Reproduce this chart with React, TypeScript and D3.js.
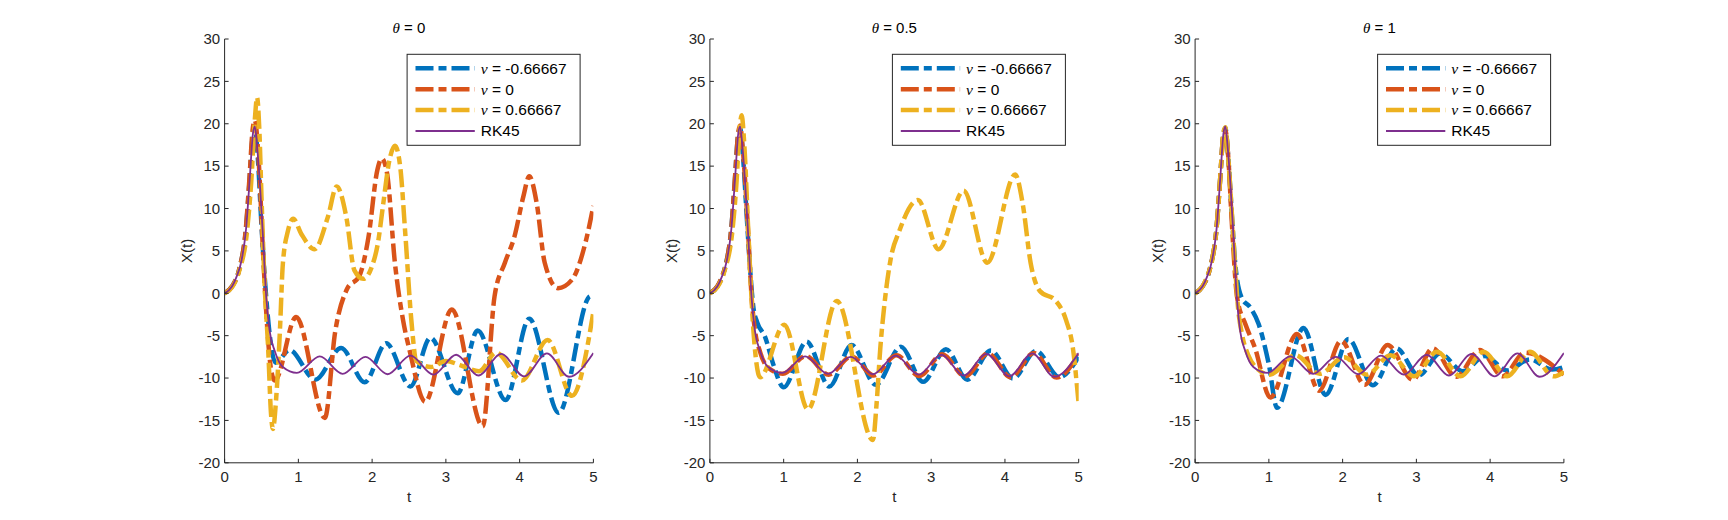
import React from 'react';
import * as d3 from 'd3';

const W = 1728;
const H = 520;
const panelLeft = [224.6, 709.9, 1195.1];
const panelW = 368.8;
const plotTop = 39;
const plotBottom = 462.8;

const thetaLabels = ['0', '0.5', '1'];
const nuLabels = ['-0.66667', '0', '0.66667'];
const nuColors = ['#0072BD', '#D95319', '#EDB120'];
const rkColor = '#7E2F8E';
const xTicks = [0, 1, 2, 3, 4, 5];
const yTicks = [-20, -15, -10, -5, 0, 5, 10, 15, 20, 25, 30];

// RK45 reference (same in every panel)
const tRK = [0, 0.1, 0.16, 0.23, 0.29, 0.34, 0.385, 0.41, 0.44, 0.475, 0.52, 0.565, 0.61, 0.68, 0.79, 0.98, 1.29, 1.6, 1.91, 2.21, 2.52, 2.83, 3.14, 3.44, 3.75, 4.06, 4.37, 4.67, 5.0];
const xRK = [0, 0.8, 1.9, 3.9, 7.5, 13.4, 18.9, 19.7, 17.4, 13.4, 6.7, -0.5, -4.4, -6.8, -8.7, -9.4, -7.45, -9.5, -7.5, -9.55, -7.35, -9.6, -7.25, -9.7, -7.15, -9.8, -7.1, -9.85, -7.05];

// theta = 0
const t1Blue = [0, 0.1, 0.2, 0.29, 0.34, 0.38, 0.41, 0.45, 0.5, 0.56, 0.62, 0.69, 0.88, 1.23, 1.58, 1.9, 2.19, 2.52, 2.79, 3.16, 3.43, 3.81, 4.13, 4.53, 4.96, 5.0];
const x1Blue = [0, 0.8, 2.9, 7.6, 13.5, 18.5, 19.6, 16, 8, 0, -5.5, -8.2, -6.7, -10.2, -6.45, -10.5, -5.9, -11, -5.25, -11.8, -4.4, -12.6, -3, -14.1, -0.35, -0.4];
const t1Orange = [0, 0.1, 0.2, 0.29, 0.34, 0.38, 0.41, 0.46, 0.52, 0.57, 0.63, 0.68, 0.97, 1.36, 1.5, 1.66, 1.83, 1.95, 2.07, 2.13, 2.2, 2.31, 2.42, 2.51, 2.72, 3.08, 3.5, 3.66, 3.8, 3.93, 4.05, 4.13, 4.23, 4.34, 4.52, 4.71, 4.89, 5.0];
const x1Orange = [0, 0.8, 2.9, 7.8, 14, 19.3, 20.4, 16, 5, -3, -9, -10.3, -2.8, -14.7, -4.5, 0.5, 2.1, 6.6, 14.5, 15.9, 14.3, 3.5, -3.2, -6.8, -12.8, -1.9, -15.7, -0.35, 3.6, 6.7, 11.4, 13.8, 10.7, 3.6, 0.6, 1.6, 5.9, 10.3];
const t1Yellow = [0, 0.1, 0.2, 0.3, 0.36, 0.41, 0.44, 0.47, 0.5, 0.54, 0.59, 0.63, 0.655, 0.7, 0.75, 0.79, 0.86, 0.93, 1.04, 1.22, 1.4, 1.52, 1.65, 1.76, 1.88, 1.99, 2.08, 2.15, 2.23, 2.31, 2.38, 2.45, 2.53, 2.6, 2.8, 3.0, 3.2, 3.45, 3.68, 4.03, 4.38, 4.71, 5.0];
const x1Yellow = [0, 0.7, 2.7, 7, 13, 20.5, 23.1, 19.5, 11.4, 1.5, -6.4, -14.3, -16, -12.3, -4.4, 3.5, 7.4, 8.8, 7, 5.2, 9, 12.6, 9, 2.7, 1.7, 3, 6, 10.5, 15.5, 17.4, 15, 7, -3, -8, -8.7, -8, -8.5, -9.2, -7.0, -10.3, -5.5, -12.1, -2.2];

// theta = 0.5
const t2Blue = [0, 0.1, 0.2, 0.29, 0.34, 0.38, 0.41, 0.45, 0.5, 0.54, 0.59, 0.64, 0.75, 0.86, 1.0, 1.31, 1.62, 1.92, 2.25, 2.59, 2.89, 3.2, 3.49, 3.81, 4.11, 4.42, 4.74, 5.0];
const x2Blue = [0, 0.8, 2.9, 7.6, 13.5, 18.5, 19.5, 16, 9, 3.5, -1.7, -3.4, -5.2, -8.4, -11.1, -5.7, -11.0, -6.1, -10.8, -6.3, -10.45, -6.6, -10.2, -6.75, -10.05, -6.8, -9.9, -7.5];
const t2Orange = [0, 0.1, 0.16, 0.23, 0.29, 0.34, 0.385, 0.41, 0.44, 0.475, 0.52, 0.565, 0.61, 0.68, 0.79, 0.99, 1.3, 1.61, 1.92, 2.22, 2.53, 2.84, 3.15, 3.46, 3.77, 4.08, 4.39, 4.7, 5.0];
const x2Orange = [0, 0.8, 1.9, 3.9, 7.6, 13.6, 19, 19.8, 17.6, 13.6, 6.9, -0.4, -4.3, -6.9, -8.8, -9.5, -7.4, -9.6, -7.45, -9.7, -7.3, -9.75, -7.2, -9.8, -7.1, -9.9, -7.05, -9.95, -7.2];
const t2Yellow = [0, 0.1, 0.2, 0.3, 0.36, 0.4, 0.43, 0.47, 0.52, 0.59, 0.68, 1.01, 1.33, 1.72, 2.21, 2.26, 2.31, 2.37, 2.45, 2.57, 2.82, 3.1, 3.44, 3.76, 4.14, 4.24, 4.35, 4.47, 4.69, 4.83, 4.92, 5.0];
const x2Yellow = [0, 0.7, 2.7, 7, 13, 19, 21, 17, 7.4, -4.4, -9.9, -3.7, -13.7, -0.9, -17.3, -13, -6.5, -1, 4, 7.4, 11, 5.2, 12.1, 3.6, 14, 10.6, 3.5, 0.3, -0.9, -3.2, -6.4, -13.1];

// theta = 1
const t3Blue = [0, 0.1, 0.2, 0.29, 0.34, 0.38, 0.41, 0.45, 0.5, 0.54, 0.63, 0.75, 0.86, 1.0, 1.11, 1.47, 1.77, 2.08, 2.41, 2.73, 3.03, 3.32, 3.63, 3.93, 4.23, 4.54, 4.84, 5.0];
const x3Blue = [0, 0.8, 2.9, 7.6, 13.5, 18.5, 19.5, 16, 9, 3.9, -0.5, -1.7, -3.6, -8.4, -13.5, -4.1, -12.0, -5.4, -10.85, -6.5, -9.7, -7.1, -9.2, -7.4, -9.1, -7.8, -9.0, -8.7];
const t3Orange = [0, 0.1, 0.2, 0.29, 0.34, 0.38, 0.41, 0.45, 0.5, 0.57, 0.68, 0.81, 1.02, 1.38, 1.68, 1.98, 2.3, 2.61, 2.95, 3.22, 3.54, 3.86, 4.17, 4.47, 5.0];
const x3Orange = [0, 0.8, 2.9, 7.6, 13.5, 18.5, 19.3, 16, 8, -0.5, -3.6, -6.4, -12.3, -4.8, -11.5, -5.6, -10.8, -6.1, -10.2, -6.5, -9.85, -6.7, -9.8, -7.0, -9.6];
const t3Yellow = [0, 0.1, 0.16, 0.23, 0.29, 0.34, 0.385, 0.41, 0.44, 0.48, 0.53, 0.58, 0.64, 0.72, 0.83, 1.01, 1.36, 1.69, 2.02, 2.33, 2.65, 2.97, 3.28, 3.6, 3.91, 4.23, 4.54, 4.86, 5.0];
const x3Yellow = [0, 0.8, 1.9, 3.9, 7.6, 13.5, 19, 19.6, 17, 12, 5, -1.5, -5, -7.3, -8.8, -9.6, -7.3, -9.5, -7.55, -9.6, -7.3, -9.8, -6.9, -9.8, -6.9, -9.8, -6.9, -9.8, -9.3];

const panelSeries = [
  [[t1Blue, x1Blue], [t1Orange, x1Orange], [t1Yellow, x1Yellow]],
  [[t2Blue, x2Blue], [t2Orange, x2Orange], [t2Yellow, x2Yellow]],
  [[t3Blue, x3Blue], [t3Orange, x3Orange], [t3Yellow, x3Yellow]],
];

const axisColor = '#262626';
const sans = '"Liberation Sans", Arial, Helvetica, sans-serif';
const serif = '"Liberation Serif", "DejaVu Serif", serif';
const dash = '18 5 8 5';

function Panel({ idx }: { idx: number }) {
  const left = panelLeft[idx];
  const right = left + panelW;
  const x = d3.scaleLinear().domain([0, 5]).range([left, right]);
  const y = d3.scaleLinear().domain([-20, 30]).range([plotBottom, plotTop]);
  const line = d3
    .line<[number, number]>()
    .x((d) => x(d[0]))
    .y((d) => y(d[1]))
    .curve(d3.curveMonotoneX);
  const toPts = (ts: number[], xs: number[]) => ts.map((t, i) => [t, xs[i]] as [number, number]);
  const cx = (left + right) / 2;

  const legW = 173;
  const legH = 91;
  const legX = right - 13.3 - legW;
  const legY = 54.3;
  const rowY = [14, 35, 55.7, 76.7];
  const clipId = `clip${idx}`;

  return (
    <g>
      <defs>
        <clipPath id={clipId}>
          <rect x={left} y={plotTop} width={panelW} height={plotBottom - plotTop} />
        </clipPath>
      </defs>
      <g clipPath={`url(#${clipId})`}>
        {panelSeries[idx].map(([ts, xs], i) => (
          <path
            key={i}
            d={line(toPts(ts, xs)) || ''}
            fill="none"
            stroke={nuColors[i]}
            strokeWidth={4.5}
            strokeDasharray={dash}
          />
        ))}
        <path d={line(toPts(tRK, xRK)) || ''} fill="none" stroke={rkColor} strokeWidth={1.8} />
      </g>

      {/* axes */}
      <line x1={left} x2={left} y1={plotTop} y2={plotBottom} stroke={axisColor} strokeWidth={1} />
      <line x1={left} x2={right} y1={plotBottom} y2={plotBottom} stroke={axisColor} strokeWidth={1} />
      {yTicks.map((v) => (
        <g key={`y${v}`}>
          <line x1={left} x2={left + 4} y1={y(v)} y2={y(v)} stroke={axisColor} strokeWidth={1} />
          <text x={left - 4.5} y={y(v) + 5.3} textAnchor="end" fontSize={15} fill={axisColor} fontFamily={sans}>
            {v}
          </text>
        </g>
      ))}
      {xTicks.map((v) => (
        <g key={`x${v}`}>
          <line x1={x(v)} x2={x(v)} y1={plotBottom} y2={plotBottom - 4} stroke={axisColor} strokeWidth={1} />
          <text x={x(v)} y={plotBottom + 19.5} textAnchor="middle" fontSize={15} fill={axisColor} fontFamily={sans}>
            {v}
          </text>
        </g>
      ))}

      {/* labels */}
      <text
        transform={`translate(${left - 32.5},${(plotTop + plotBottom) / 2}) rotate(-90)`}
        textAnchor="middle"
        fontSize={15}
        fill={axisColor}
        fontFamily={sans}
      >
        X(t)
      </text>
      <text x={cx} y={plotBottom + 38.7} textAnchor="middle" fontSize={15} fill={axisColor} fontFamily={sans}>
        t
      </text>
      <text x={cx} y={32.7} textAnchor="middle" fontSize={15} fill="#000" fontFamily={sans}>
        <tspan fontFamily={serif} fontStyle="italic">θ</tspan>
        <tspan> = {thetaLabels[idx]}</tspan>
      </text>

      {/* legend */}
      <rect x={legX} y={legY} width={legW} height={legH} fill="#fff" stroke={axisColor} strokeWidth={1} />
      {nuLabels.map((lab, i) => (
        <g key={`l${i}`}>
          <line
            x1={legX + 8.4}
            x2={legX + 67.7}
            y1={legY + rowY[i]}
            y2={legY + rowY[i]}
            stroke={nuColors[i]}
            strokeWidth={4.5}
            strokeDasharray={dash}
          />
          <text x={legX + 73.7} y={legY + rowY[i] + 5.3} fontSize={15.5} fill="#000" fontFamily={sans}>
            <tspan fontFamily={serif} fontStyle="italic">ν</tspan>
            <tspan> = {lab}</tspan>
          </text>
        </g>
      ))}
      <line
        x1={legX + 8.4}
        x2={legX + 67.7}
        y1={legY + rowY[3]}
        y2={legY + rowY[3]}
        stroke={rkColor}
        strokeWidth={1.8}
      />
      <text x={legX + 73.7} y={legY + rowY[3] + 5.3} fontSize={15.5} fill="#000" fontFamily={sans}>
        RK45
      </text>
    </g>
  );
}

export default function App() {
  return (
    <svg
      width={W}
      height={H}
      viewBox={`0 0 ${W} ${H}`}
      style={{ position: 'absolute', left: 0, top: 0, background: '#fff' }}
    >
      <rect x={0} y={0} width={W} height={H} fill="#fff" />
      {[0, 1, 2].map((i) => (
        <Panel key={i} idx={i} />
      ))}
    </svg>
  );
}
